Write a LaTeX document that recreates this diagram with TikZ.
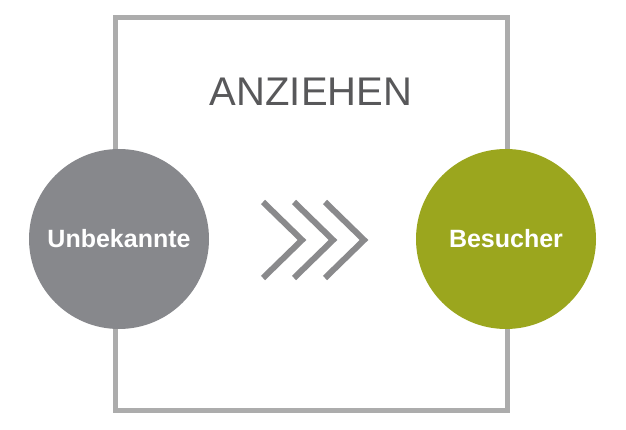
\documentclass[tikz,border=0pt]{standalone}
\usepackage{fontspec}
\setmainfont{Liberation Sans}
\definecolor{rahmengrau}{RGB}{172,172,172}
\definecolor{titelgrau}{RGB}{88,88,90}
\definecolor{kreisgrau}{RGB}{135,136,140}
\definecolor{kreisgruen}{RGB}{155,166,30}
\definecolor{pfeilgrau}{RGB}{138,138,140}
\tikzset{
    kreis/.style={circle, minimum size=180pt, inner sep=0pt, text=white,
        font=\bfseries\fontsize{25}{25}\selectfont},
}
\begin{document}
\begin{tikzpicture}[x=1pt, y=-1pt]
        \useasboundingbox (0, 0) rectangle (626, 430);
        \draw[color=rahmengrau, line width=5pt] (115, 18) rectangle (507, 410);
        \node[text=titelgrau, font=\fontsize{40}{40}\selectfont] (titel) at (311, 92) {ANZIEHEN};
        \node[kreis, fill=kreisgrau] (unbekannte) at (119, 239) {Unbekannte};
        \node[kreis, fill=kreisgruen] (besucher) at (506, 239) {Besucher};
        \foreach \dx in {0, 31, 62}
            \draw[color=pfeilgrau, line width=6pt] (263+\dx, 202) -- (302+\dx, 240) -- (263+\dx, 278);
    \end{tikzpicture}
\end{document}
